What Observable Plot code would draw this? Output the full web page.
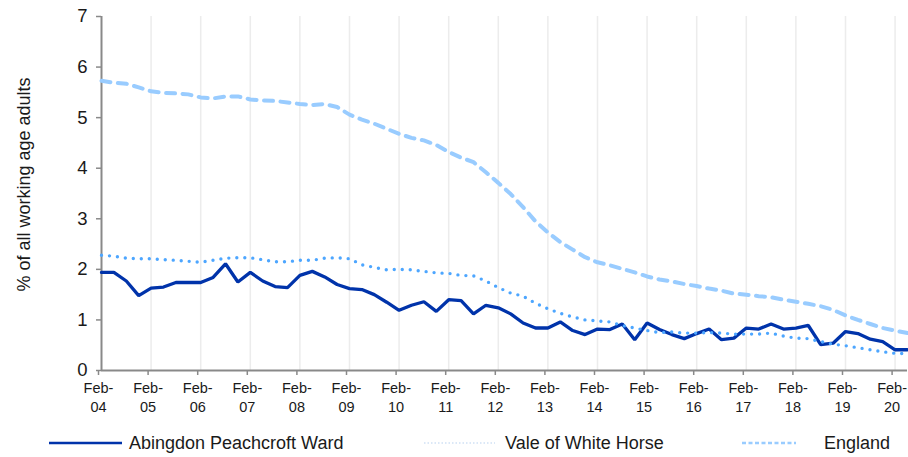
<!DOCTYPE html>
<html>
<head>
<meta charset="utf-8">
<script src="https://cdn.jsdelivr.net/npm/d3@7"></script>
<script src="https://cdn.jsdelivr.net/npm/@observablehq/plot@0.6"></script>
<style>
  html, body { margin: 0; padding: 0; background: #fff; }
  body { width: 908px; height: 457px; overflow: hidden; font-family: "Liberation Sans", Arial, sans-serif; color: #1a1a1a; }
  #legend { position: relative; height: 32px; width: 908px; }
  #legend .sw { position: absolute; top: 13px; }
  #legend .lb { position: absolute; top: 7px; font-size: 18px; line-height: 22px; white-space: nowrap; }
</style>
</head>
<body>
<div id="chart"></div>
<div id="legend">
  <svg class="sw" style="left:49px" width="73" height="10"><line x1="0" y1="5" x2="73" y2="5" stroke="#0033aa" stroke-width="2.5"/></svg>
  <span class="lb" style="left:129px">Abingdon Peachcroft Ward</span>
  <svg class="sw" style="left:424px" width="71" height="10"><line x1="0" y1="5" x2="71" y2="5" stroke="#dbe8f7" stroke-width="2" stroke-dasharray="1.5,2"/></svg>
  <span class="lb" style="left:505px">Vale of White Horse</span>
  <svg class="sw" style="left:742px" width="54" height="10"><line x1="0" y1="5" x2="54" y2="5" stroke="#99ccff" stroke-width="2.5" stroke-dasharray="4,2.5"/></svg>
  <span class="lb" style="left:824px">England</span>
</div>
<script>
const quarters = [
  "Feb-04","May-04","Aug-04","Nov-04","Feb-05","May-05","Aug-05","Nov-05",
  "Feb-06","May-06","Aug-06","Nov-06","Feb-07","May-07","Aug-07","Nov-07",
  "Feb-08","May-08","Aug-08","Nov-08","Feb-09","May-09","Aug-09","Nov-09",
  "Feb-10","May-10","Aug-10","Nov-10","Feb-11","May-11","Aug-11","Nov-11",
  "Feb-12","May-12","Aug-12","Nov-12","Feb-13","May-13","Aug-13","Nov-13",
  "Feb-14","May-14","Aug-14","Nov-14","Feb-15","May-15","Aug-15","Nov-15",
  "Feb-16","May-16","Aug-16","Nov-16","Feb-17","May-17","Aug-17","Nov-17",
  "Feb-18","May-18","Aug-18","Nov-18","Feb-19","May-19","Aug-19","Nov-19",
  "Feb-20","May-20"
];
const tickLabels = ["Feb-04","Feb-05","Feb-06","Feb-07","Feb-08","Feb-09","Feb-10","Feb-11",
  "Feb-12","Feb-13","Feb-14","Feb-15","Feb-16","Feb-17","Feb-18","Feb-19","Feb-20"];
const yTicks = [0,1,2,3,4,5,6,7];

const abingdon = [1.94,1.94,1.77,1.48,1.63,1.65,1.74,1.74,1.74,1.84,2.11,1.75,1.94,1.77,1.66,1.64,
  1.88,1.96,1.85,1.70,1.62,1.60,1.50,1.35,1.19,1.29,1.36,1.17,1.40,1.38,1.12,1.29,
  1.24,1.12,0.94,0.84,0.84,0.96,0.79,0.71,0.82,0.81,0.92,0.61,0.94,0.81,0.71,0.63,
  0.73,0.82,0.61,0.64,0.84,0.82,0.92,0.82,0.84,0.89,0.51,0.54,0.77,0.73,0.62,0.57,
  0.41,0.41];
const vale = [2.28,2.26,2.22,2.21,2.21,2.19,2.18,2.16,2.14,2.18,2.22,2.23,2.23,2.19,2.15,2.15,
  2.18,2.18,2.22,2.23,2.21,2.09,2.04,1.99,2.00,1.99,1.96,1.93,1.92,1.88,1.87,1.77,
  1.64,1.53,1.47,1.33,1.22,1.13,1.06,1.00,0.98,0.96,0.89,0.84,0.79,0.75,0.76,0.74,
  0.74,0.75,0.74,0.72,0.72,0.72,0.74,0.68,0.64,0.63,0.57,0.52,0.49,0.45,0.41,0.37,
  0.34,0.33];
const england = [5.73,5.69,5.67,5.60,5.52,5.49,5.48,5.46,5.40,5.38,5.42,5.42,5.36,5.34,5.33,5.30,
  5.27,5.25,5.27,5.21,5.06,4.96,4.88,4.78,4.68,4.60,4.55,4.46,4.32,4.21,4.12,3.92,
  3.71,3.49,3.23,2.95,2.73,2.54,2.39,2.24,2.14,2.08,2.01,1.94,1.86,1.80,1.76,1.71,
  1.67,1.62,1.58,1.52,1.50,1.47,1.45,1.40,1.36,1.32,1.27,1.20,1.09,1.00,0.92,0.84,
  0.79,0.74];
const yTitle = "% of all working age adults";

const textColor = "#1a1a1a";
const axisColor = "#898989";

const chart = Plot.plot({
  width: 908,
  height: 425,
  marginLeft: 101,
  marginRight: 1,
  marginTop: 16,
  marginBottom: 55,
  style: { fontFamily: "'Liberation Sans', Arial, sans-serif", background: "#fff", color: textColor, overflow: "visible" },
  x: { type: "point", domain: quarters, padding: 0, round: false },
  y: { domain: [0, 7] },
  marks: [
    Plot.ruleX(tickLabels.slice(1), { y1: 0, y2: 7, stroke: "#ececec", strokeWidth: 1.5 }),
    Plot.axisX({
      ticks: tickLabels, tickFormat: d => d.replace("-", "-\n"),
      tickSize: 5, tickPadding: 4, fontSize: 14.5, lineHeight: 1.3, dx: -3,
      stroke: axisColor, strokeWidth: 1.5, fill: textColor, label: null
    }),
    Plot.axisY({
      ticks: yTicks, tickFormat: d => String(d), tickSize: 5, tickPadding: 9, fontSize: 18.5,
      stroke: axisColor, strokeWidth: 1.5, fill: textColor, label: null
    }),
    Plot.ruleX([quarters[0]], { y1: 0, y2: 7, stroke: axisColor, strokeWidth: 2 }),
    Plot.ruleY([0], { stroke: axisColor, strokeWidth: 2 }),
    Plot.text([yTitle], { frameAnchor: "left", textAnchor: "middle", lineAnchor: "middle", rotate: -90, dx: -77, dy: -9, fontSize: 18, fill: textColor }),
    Plot.line(abingdon, { x: (d, i) => quarters[i], y: d => d, stroke: "#0033aa", strokeWidth: 3.3, strokeLinejoin: "miter" }),
    Plot.line(vale, { x: (d, i) => quarters[i], y: d => d, stroke: "#4da6ff", strokeWidth: 3.4, strokeLinecap: "round", strokeDasharray: "0,8" }),
    Plot.line(england, { x: (d, i) => quarters[i], y: d => d, stroke: "#99ccff", strokeWidth: 4, strokeLinecap: "round", strokeDasharray: "9,7.5" })
  ]
});
document.getElementById("chart").appendChild(chart);
</script>
</body>
</html>
